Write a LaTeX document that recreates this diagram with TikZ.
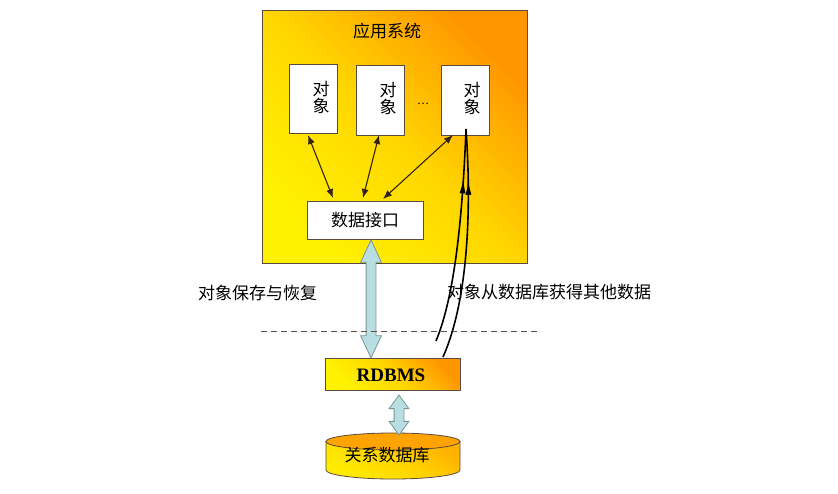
\documentclass[tikz,border=0pt]{standalone}
\usepackage{fontspec}
\setmainfont{Liberation Serif}
\newfontfamily\cjk{Noto Sans CJK SC}
\usetikzlibrary{arrows.meta,shapes.geometric,shapes.arrows,decorations.markings}
\definecolor{boxline}{RGB}{90,75,65}
\definecolor{orng}{RGB}{255,150,0}
\definecolor{ylw}{RGB}{255,242,0}
\definecolor{mid}{RGB}{255,214,0}
\definecolor{arrfill}{RGB}{185,222,226}
\definecolor{arrline}{RGB}{120,150,150}
\definecolor{darkln}{RGB}{50,35,25}
\tikzset{
  grad/.style={top color=orng, bottom color=ylw, middle color=mid, shading angle=-45},
  objbox/.style={draw=boxline, line width=0.8pt, fill=white, minimum width=48pt, minimum height=70pt, inner sep=0pt},
  lbl/.style={font=\cjk\fontsize{17}{19}\selectfont, inner sep=0pt},
  link/.style={darkln, line width=1.1pt, {Latex[length=9pt,width=7pt]}-{Latex[length=9pt,width=7pt]}},
  fatarrow/.style={double arrow, draw=arrline, fill=arrfill, line width=0.8pt, inner xsep=0pt},
  curv/.style={black, line width=1.6pt, postaction={decorate}, decoration={markings, mark=at position #1 with {\arrow{Latex[length=15pt,width=6pt]}}}}
}
\begin{document}
\begin{tikzpicture}[x=1pt,y=-1pt]
\useasboundingbox (0,0) rectangle (838,493);
% application system box
\node[draw=boxline, line width=1pt, grad, minimum width=265pt, minimum height=253pt, inner sep=0pt, anchor=north west] (app) at (262,10) {};
\node[lbl] (title) at (387,31) {应用系统};
% objects
\node[objbox, minimum height=69pt, anchor=north west] (o1) at (289,64) {};
\node[objbox, anchor=north west] (o2) at (356,65) {};
\node[objbox, anchor=north west] (o3) at (441,65) {};
\node[lbl, align=center, text width=20pt] (t1) at (321,97) {对\\[-2pt]象};
\node[lbl, align=center, text width=20pt] (t2) at (388,98) {对\\[-2pt]象};
\node[lbl, align=center, text width=20pt] (t3) at (472,98) {对\\[-2pt]象};
\node[font=\cjk\fontsize{11}{12}\selectfont, inner sep=0pt] (dots) at (423,104) {…};
% interface
\node[draw=boxline, line width=0.8pt, fill=white, minimum width=116pt, minimum height=38pt, inner sep=0pt, anchor=north west, lbl] (api) at (307,201) {};
\node[lbl] (apit) at (365,220) {数据接口};
% links
\coordinate (o1b) at (308,135); \coordinate (a1) at (333,198);
\coordinate (o2b) at (379,135); \coordinate (a2) at (363,198);
\coordinate (o3b) at (453,135); \coordinate (a3) at (383,199);
\draw[link] (o1b) -- (a1);
\draw[link] (o2b) -- (a2);
\draw[link] (o3b) -- (a3);
% RDBMS
\node[draw=boxline, line width=0.8pt, grad, minimum width=135pt, minimum height=32pt, inner sep=0pt, anchor=north west] (rdbms) at (325,358) {};
\node[font=\bfseries\fontsize{19}{21}\selectfont, inner sep=0pt] (rdt) at (391,375) {RDBMS};
% big double arrow
\node[fatarrow, inner ysep=4.5pt, minimum height=118pt, double arrow head extend=5.5pt, double arrow tip angle=50, rotate=90] (big) at (371,299) {};
% dashed line
\coordinate (dl) at (261,331); \coordinate (dr) at (538,331);
\draw[darkln!80, line width=0.9pt, dash pattern=on 6pt off 4pt] (dl) -- (dr);
% cylinder (database)
\coordinate (db) at (393,441.5);
\shade[top color=orng!70!ylw, bottom color=ylw!80!mid, middle color=mid, shading angle=-30, draw=boxline, line width=0.8pt]
  (326,441.5) -- (326,470) arc[start angle=180, end angle=360, x radius=67, y radius=-9] -- (460,441.5) -- cycle;
\filldraw[fill=orng!80!mid, draw=boxline, line width=0.8pt] (db) ellipse[x radius=67, y radius=8.5];
\node[lbl] (dbt) at (387,455) {关系数据库};
% small double arrow
\node[fatarrow, inner ysep=4.5pt, minimum height=40pt, double arrow head extend=5pt, double arrow tip angle=72, rotate=90] (small) at (399,415) {};
% labels
\node[lbl, anchor=west] (l1) at (198,293) {对象保存与恢复};
\node[lbl, anchor=west] (l2) at (447,292) {对象从数据库获得其他数据};
% curved arrows
\coordinate (c1s) at (436,341);
\coordinate (c2s) at (443,357);
\coordinate (ctop) at (466,129);
\draw[curv=0.77] (c1s) .. controls (453,300) and (462,230) .. (ctop);
\draw[curv=0.78] (c2s) .. controls (464,310) and (473,230) .. (ctop);
\end{tikzpicture}
\end{document}
